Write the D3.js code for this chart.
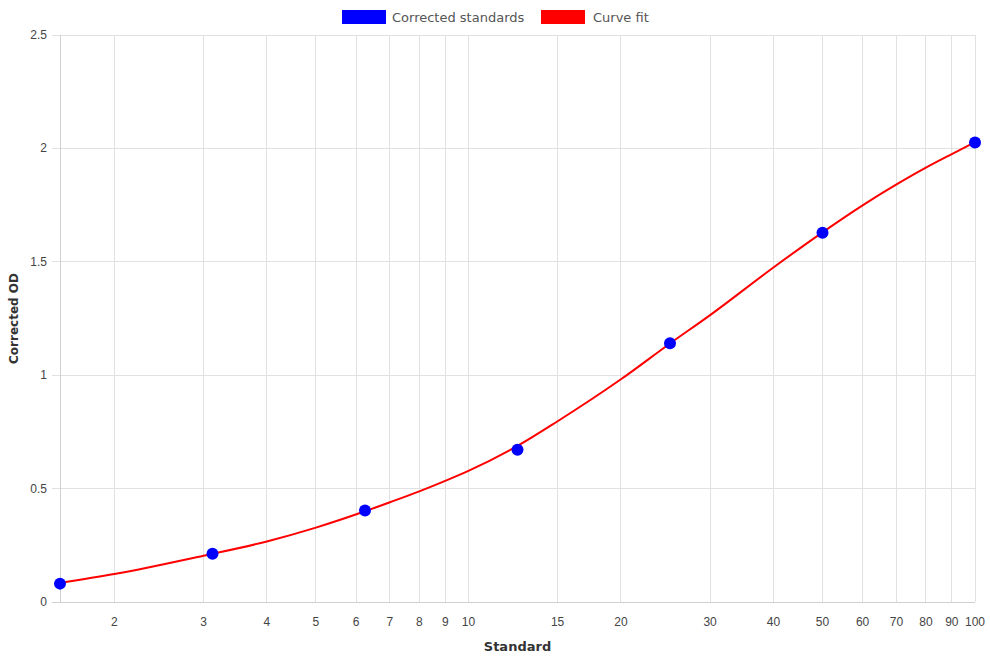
<!DOCTYPE html>
<html>
<head>
<meta charset="utf-8">
<script src="https://cdn.jsdelivr.net/npm/d3@7"></script>
<style>
  html, body { margin: 0; padding: 0; background: #fff; }
  svg { display: block; }
</style>
</head>
<body>
<svg id="chart" width="990" height="660"></svg>
<script>
// Data
const standards = [1.5625, 3.125, 6.25, 12.5, 25, 50, 100];
const correctedOD = [0.081, 0.213, 0.403, 0.671, 1.141, 1.628, 2.026];

const fitX = [1.5625, 2, 3, 4, 5, 6.25, 7, 8, 9, 10, 12.5, 15, 20, 25, 30, 40, 50, 60, 70, 80, 90, 100];
const fitY = [0.084, 0.123, 0.204, 0.267, 0.328, 0.400, 0.440, 0.488, 0.534, 0.578, 0.688, 0.797, 0.982, 1.140, 1.265, 1.475, 1.630, 1.749, 1.841, 1.915, 1.975, 2.028];

const xTicks = [2, 3, 4, 5, 6, 7, 8, 9, 10, 15, 20, 30, 40, 50, 60, 70, 80, 90, 100];
const yTicks = [0, 0.5, 1, 1.5, 2, 2.5];

const seriesNames = ["Corrected standards", "Curve fit"];
const seriesColors = ["#0000ff", "#ff0000"];

(function () {
const svg = d3.select("#chart");
const pl = 60, pr = 975, pt = 35, pb = 602;

const x = d3.scaleLog().domain([1.5625, 100]).range([pl, pr]);
const y = d3.scaleLinear().domain([0, 2.5]).range([pb, pt]);

const gridColor = "#e1e1e1";
const tickFont = "'Liberation Sans', Arial, sans-serif";
const titleFont = "'DejaVu Sans', sans-serif";

// Vertical grid
svg.append("g").selectAll("line").data([1.5625].concat(xTicks)).join("line")
  .attr("x1", d => x(d)).attr("x2", d => x(d))
  .attr("y1", pt).attr("y2", pb)
  .attr("stroke", gridColor).attr("stroke-width", 1)
  .attr("shape-rendering", "crispEdges");

// Horizontal grid (with tick extension left)
svg.append("g").selectAll("line").data(yTicks).join("line")
  .attr("x1", pl - 8).attr("x2", pr)
  .attr("y1", d => y(d)).attr("y2", d => y(d))
  .attr("stroke", gridColor).attr("stroke-width", 1)
  .attr("shape-rendering", "crispEdges");

// Axis border lines
svg.append("line").attr("x1", pl).attr("x2", pl).attr("y1", pt).attr("y2", pb)
  .attr("stroke", "#d0d0d0").attr("shape-rendering", "crispEdges");
svg.append("line").attr("x1", pl - 8).attr("x2", pr).attr("y1", pb).attr("y2", pb)
  .attr("stroke", "#d0d0d0").attr("shape-rendering", "crispEdges");

// Tick labels
svg.append("g").selectAll("text").data(xTicks).join("text")
  .attr("x", d => x(d)).attr("y", 626)
  .attr("text-anchor", "middle")
  .attr("font-family", tickFont).attr("font-size", 12).attr("fill", "#444")
  .text(d => d);

svg.append("g").selectAll("text").data(yTicks).join("text")
  .attr("x", 47).attr("y", d => y(d) + 4)
  .attr("text-anchor", "end")
  .attr("font-family", tickFont).attr("font-size", 12).attr("fill", "#444")
  .text(d => d);

// Axis titles
svg.append("text").attr("x", (pl + pr) / 2).attr("y", 651)
  .attr("text-anchor", "middle").attr("font-family", titleFont)
  .attr("font-size", 13).attr("font-weight", "bold").attr("fill", "#333")
  .text("Standard");

svg.append("text").attr("transform", `translate(18, ${(pt + pb) / 2}) rotate(-90)`)
  .attr("text-anchor", "middle").attr("font-family", titleFont)
  .attr("font-size", 12).attr("font-weight", "bold").attr("fill", "#333")
  .text("Corrected OD");

// Curve fit
const fitData = fitX.map((d, i) => [d, fitY[i]]);
const line = d3.line().x(d => x(d[0])).y(d => y(d[1])).curve(d3.curveMonotoneX);
svg.append("path").datum(fitData)
  .attr("d", line).attr("fill", "none")
  .attr("stroke", seriesColors[1]).attr("stroke-width", 2);

// Points
svg.append("g").selectAll("circle").data(standards).join("circle")
  .attr("cx", d => x(d)).attr("cy", (d, i) => y(correctedOD[i]))
  .attr("r", 6).attr("fill", seriesColors[0]);

// Legend
const legend = svg.append("g");
const legendItems = [
  { name: seriesNames[0], color: seriesColors[0], bx: 342, tx: 392 },
  { name: seriesNames[1], color: seriesColors[1], bx: 541, tx: 593 }
];
legendItems.forEach(it => {
  legend.append("rect").attr("x", it.bx).attr("y", 10).attr("width", 44).attr("height", 14)
    .attr("fill", it.color);
  legend.append("text").attr("x", it.tx).attr("y", 21.5)
    .attr("font-family", titleFont).attr("font-size", 13).attr("fill", "#555")
    .text(it.name);
});
})();
</script>
</body>
</html>
